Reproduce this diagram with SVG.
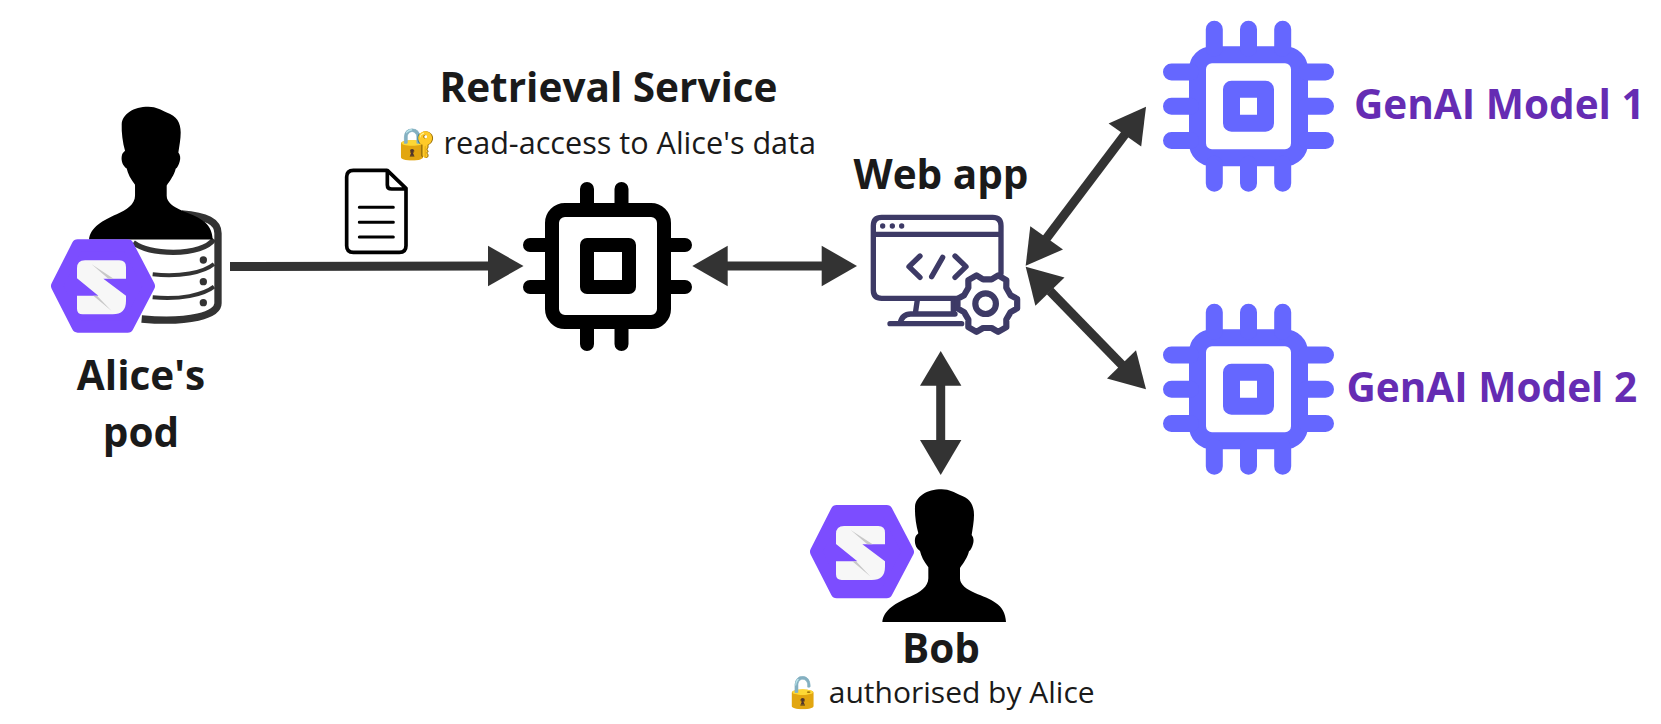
<svg xmlns="http://www.w3.org/2000/svg" width="1661" height="724" viewBox="0 0 1661 724">
<style>
.t{font-family:"Open Sans","Noto Sans",sans-serif;fill:#1a1a1a}
.b{font-weight:700;font-size:40.5px}
.r{font-size:30.6px}
.r2{font-size:30px}
.g{font-family:"Open Sans","Noto Sans",sans-serif;font-weight:700;font-size:40.5px;fill:#652cb3}
.ln{stroke:#333;stroke-width:9;fill:none}
.hd{fill:#333}
.ic{fill:none;stroke:#3d3a66;stroke-width:16;stroke-linecap:round;stroke-linejoin:round}
.bp{fill:none;stroke:#6567ff;stroke-width:17;stroke-linecap:round}
.kp{fill:none;stroke:#000;stroke-width:14;stroke-linecap:round}
.db{fill:none;stroke:#333;stroke-linecap:butt}
.dc{fill:none;stroke:#000;stroke-width:11;stroke-linejoin:round}
.dl{fill:none;stroke:#000;stroke-width:9;stroke-linecap:round}
</style>
<defs>
<g id="person"><path fill="#000" d="M337,456C340,420 380,397 420,380C450,368 475,350 475,325V292C462,275 453,258 450,243C438,235 433,220 435,207C436,198 440,195 445,190C438,165 434,135 435,110C437,80 470,58 515,58C540,58 552,68 570,75C600,85 612,105 612,135C612,155 608,175 605,195C611,202 612,212 609,222C606,233 602,240 597,244C593,262 580,280 570,294V325C570,345 590,358 615,369C660,388 706,400 708,456Z"/></g>
<g id="solid">
<path fill="#7c4dff" stroke="#7c4dff" stroke-width="36" stroke-linejoin="round" d="M138,245L200,123H350L414,245L350,367H200Z"/>
<path fill="#f7f7f7" d="M222,168H325Q345,168 345,188V223H277L345,274V290Q345,330 305,330H215Q198,330 198,313V274H262L198,222V192Q198,168 222,168Z"/>
<path fill="#c8c8c8" d="M242,180L308,223H292ZM247,274H258L302,320Z"/>
</g>
<g id="bchip">
<rect x="-51" y="-51.5" width="102" height="103" rx="14.5" fill="none" stroke="#6567ff" stroke-width="17"/>
<rect x="-17" y="-17" width="34" height="34" fill="none" stroke="#6567ff" stroke-width="17" stroke-linejoin="round"/>
<path class="bp" d="M-34.2,-77V-58M0,-77V-58M34.2,-77V-58M-34.2,77V58M0,77V58M34.2,77V58M-77,-34.3H-58M-77,0H-58M-77,34.3H-58M77,-34.3H58M77,0H58M77,34.3H58"/>
</g>
</defs>

<g id="connectors">
<path class="ln" d="M230,266.6L490,266"/>
<path class="hd" d="M523.5,266L488,245.7V286.3Z"/>
<path class="ln" d="M725,266H825"/>
<path class="hd" d="M692.3,266L727.7,245.7V286.3Z"/>
<path class="hd" d="M857,266L821.7,245.7V286.3Z"/>
<path class="ln" d="M1046,239L1126,133"/>
<path class="hd" d="M1146,106.7L1108.6,123.4L1141.2,146.4Z"/>
<path class="hd" d="M1025.7,265.7L1063,249.5L1030.3,226.2Z"/>
<path class="ln" d="M1050,291L1122,365"/>
<path class="hd" d="M1025.7,266.7L1064.5,277.5L1035.4,305.7Z"/>
<path class="hd" d="M1146,389.3L1107,378.5L1136,350.3Z"/>
<path class="ln" d="M940.7,380V445"/>
<path class="hd" d="M940.7,351L920,385.7H961.4Z"/>
<path class="hd" d="M940.7,475L920,440H961.4Z"/>
</g>

<g id="alice-pod">
<g transform="translate(30,90) scale(.33333)">
<path class="db" stroke-width="22" d="M455,372C530,378 564,395 564,430V640C564,675 480,700 335,687"/>
<path class="db" stroke-width="16" d="M310,458C340,480 390,487 430,487C490,487 535,472 552,448"/>
<path class="db" stroke-width="12" d="M368,553C450,562 520,548 552,522"/>
<path class="db" stroke-width="12" d="M368,622C450,630 520,615 552,590"/>
<circle cx="520" cy="510" r="11" fill="#333"/><circle cx="520" cy="575" r="11" fill="#333"/><circle cx="520" cy="638" r="11" fill="#333"/>
</g>
<use href="#person" transform="translate(-23.3,87.5) scale(.33333)"/>
<use href="#solid" transform="translate(11,204.3) scale(.33333)"/>
<text class="t b" x="141" y="389.5" text-anchor="middle">Alice's</text>
<text class="t b" x="141" y="446.5" text-anchor="middle">pod</text>
</g>

<g id="document" transform="translate(30,90) scale(.33333)">
<path class="dc" d="M1072,241H970Q950,241 950,261V467Q950,487 970,487H1108Q1128,487 1128,467V295L1072,241V285Q1072,297 1085,297H1128"/>
<path class="dl" d="M988,352H1090M988,397H1090M988,441H1090"/>
</g>

<g id="retrieval-service">
<text class="t b" x="608.5" y="101.5" text-anchor="middle">Retrieval Service</text>
<text class="t r" x="397.5" y="153.5">🔐 read-access to Alice's data</text>
<rect x="552" y="210" width="112" height="112" rx="13" fill="none" stroke="#000" stroke-width="14"/>
<rect x="587" y="245" width="42" height="42" fill="none" stroke="#000" stroke-width="14" stroke-linejoin="round"/>
<path class="kp" d="M587,189V205M621.5,189V205M587,344V327M621.5,344V327M530,245H547M530,287H547M685,245H669M685,287H669"/>
</g>

<g id="web-app">
<text class="t b" x="941" y="188.5" text-anchor="middle">Web app</text>
<g transform="translate(840,200) scale(.33333)">
<path class="ic" d="M360,295H125Q100,295 100,270V77Q100,52 125,52H458Q483,52 483,77V220M100,103H483"/>
<circle cx="128" cy="78" r="8" fill="#3d3a66"/><circle cx="157" cy="78" r="8" fill="#3d3a66"/><circle cx="185" cy="78" r="8" fill="#3d3a66"/>
<path class="ic" d="M240,168L207,200L240,232M308,172L275,230M345,168L378,200L345,232M232,300L226,340M150,371H365M180,371Q186,342 212,342H345M340,300V335"/>
<g transform="translate(442,311) scale(1.03)">
<polygon class="ic" style="fill:#fff;stroke-width:18" points="86.9,-13.8 86.9,13.8 67.7,24.6 55.2,46.3 55.4,68.4 31.5,82.2 12.5,70.9 -12.5,70.9 -31.5,82.2 -55.4,68.4 -55.2,46.3 -67.7,24.6 -86.9,13.8 -86.9,-13.8 -67.7,-24.6 -55.2,-46.3 -55.4,-68.4 -31.5,-82.2 -12.5,-70.9 12.5,-70.9 31.5,-82.2 55.4,-68.4 55.2,-46.3 67.7,-24.6"/>
<circle cx="-5" r="30" class="ic" style="stroke-width:18"/>
</g>
</g>
</g>

<g id="genai-model-1">
<use href="#bchip" x="1248.5" y="106.3"/>
<text class="g" x="1354" y="118.5">GenAI Model 1</text>
</g>
<g id="genai-model-2">
<use href="#bchip" x="1248.5" y="389.3"/>
<text class="g" x="1346.5" y="402">GenAI Model 2</text>
</g>

<g id="bob">
<use href="#solid" transform="translate(770,470) scale(.33333)"/>
<use href="#person" transform="translate(770,470) scale(.33333)"/>
<text class="t b" x="941" y="663" text-anchor="middle">Bob</text>
<text class="t r2" x="784" y="702.5">🔓 authorised by Alice</text>
</g>
</svg>
